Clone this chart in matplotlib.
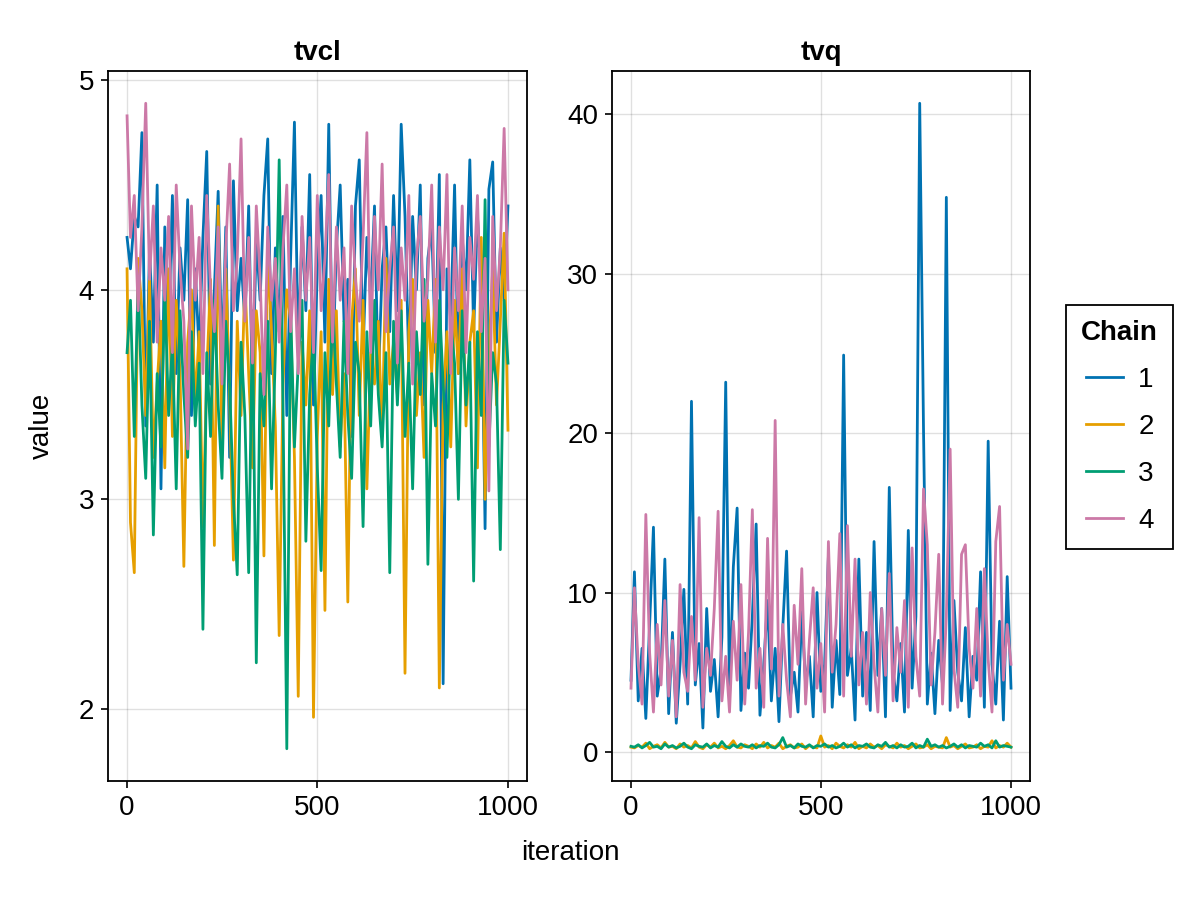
import matplotlib
matplotlib.use("Agg")
import matplotlib.pyplot as plt
from matplotlib.lines import Line2D

# ---------------- data ----------------
iterations = [1] + list(range(10, 1001, 10))
chains = ["1", "2", "3", "4"]
colors = ["#0072B2", "#E69F00", "#009E73", "#CC79A7"]
params = ["tvcl", "tvq"]

tvcl_1 = [4.25,
          4.10, 4.35, 4.30, 4.75, 3.35, 4.20, 3.75, 4.50, 3.05, 4.30,
          3.80, 4.45, 3.60, 4.20, 3.95, 4.43, 3.40, 4.10, 3.70, 4.25,
          4.66, 3.55, 4.00, 4.47, 3.65, 4.30, 3.20, 4.52, 3.90, 4.15,
          3.85, 4.40, 3.50, 4.25, 3.95, 4.45, 4.72, 3.60, 4.20, 3.80,
          4.35, 3.40, 4.15, 4.80, 3.70, 4.30, 3.90, 4.55, 3.45, 4.10,
          4.45, 3.75, 4.79, 3.60, 4.20, 4.50, 3.85, 4.05, 3.30, 4.40,
          4.62, 3.70, 4.25, 3.95, 4.40, 3.55, 4.10, 4.30, 3.80, 4.45,
          3.90, 4.79, 4.35, 3.65, 4.35, 4.00, 4.50, 3.45, 4.15, 4.30,
          3.70, 4.55, 2.12, 4.10, 3.85, 4.50, 3.60, 4.25, 4.00, 4.62,
          3.80, 4.35, 4.05, 2.86, 4.48, 4.61, 3.75, 4.20, 3.95, 4.40]
tvcl_2 = [4.10,
          2.89, 2.65, 4.15, 3.90, 3.40, 4.05, 3.20, 3.55, 3.85, 3.15,
          4.10, 3.30, 3.95, 3.60, 2.68, 3.75, 4.00, 3.45, 3.80, 2.87,
          3.60, 4.05, 2.78, 4.40, 3.25, 4.10, 3.50, 2.71, 3.85, 3.40,
          4.05, 3.60, 3.15, 3.90, 3.70, 2.73, 4.20, 3.80, 3.35, 2.35,
          3.55, 4.00, 3.85, 3.20, 2.06, 3.75, 3.45, 3.90, 1.96, 3.30,
          3.80, 2.47, 4.05, 3.50, 3.90, 3.25, 3.60, 2.51, 3.85, 4.10,
          3.40, 3.95, 3.05, 3.70, 3.55, 3.85, 3.30, 4.15, 3.55, 3.75,
          3.50, 3.95, 2.17, 3.80, 4.05, 3.40, 3.70, 3.20, 3.95, 3.60,
          4.05, 2.10, 3.45, 3.80, 3.25, 3.95, 3.60, 4.10, 3.35, 3.75,
          3.90, 3.15, 4.25, 3.00, 3.70, 4.10, 3.45, 3.85, 4.27, 3.33]
tvcl_3 = [3.70,
          3.95, 3.30, 4.05, 3.45, 3.10, 3.85, 2.83, 3.60, 3.25, 4.00,
          3.40, 3.75, 3.05, 3.90, 3.50, 3.20, 3.80, 3.35, 3.65, 2.38,
          3.70, 3.30, 3.95, 3.45, 3.10, 3.85, 3.55, 3.00, 2.64, 3.75,
          3.40, 2.65, 3.90, 2.22, 3.60, 3.35, 3.85, 3.05, 3.70, 4.62,
          3.45, 1.81, 3.90, 3.25, 3.65, 3.95, 2.80, 3.50, 3.80, 3.15,
          2.66, 3.70, 3.35, 3.95, 3.55, 3.20, 3.85, 3.40, 3.10, 3.75,
          3.60, 2.87, 3.80, 3.35, 3.95, 3.50, 3.25, 3.70, 2.65, 3.85,
          3.45, 3.90, 3.30, 3.65, 3.05, 3.80, 3.50, 4.05, 2.69, 3.60,
          3.35, 3.95, 3.55, 3.20, 3.85, 3.65, 3.00, 3.90, 3.45, 3.75,
          2.61, 3.80, 3.40, 4.43, 3.25, 3.70, 3.55, 2.76, 3.95, 3.65]
tvcl_4 = [4.83,
          4.25, 4.45, 3.90, 4.30, 4.89, 4.05, 4.40, 3.75, 4.20, 3.95,
          4.35, 3.70, 4.50, 4.10, 3.85, 3.24, 4.40, 3.95, 4.25, 3.60,
          4.45, 4.00, 3.80, 4.30, 3.55, 4.20, 4.60, 3.90, 4.15, 4.72,
          3.85, 4.25, 3.65, 4.40, 4.05, 3.50, 4.30, 3.95, 4.15, 3.75,
          4.20, 4.50, 3.80, 4.10, 3.60, 4.35, 3.95, 4.25, 3.70, 4.45,
          3.90, 4.15, 4.55, 3.75, 4.30, 3.95, 4.20, 3.60, 4.40, 4.05,
          3.85, 4.25, 4.75, 3.70, 4.35, 4.00, 4.60, 3.80, 4.10, 4.30,
          3.65, 4.20, 3.95, 4.45, 3.55, 4.15, 4.35, 3.85, 4.05, 4.50,
          3.75, 4.30, 4.00, 4.55, 3.60, 4.20, 3.90, 4.40, 3.70, 4.25,
          4.05, 4.45, 3.80, 4.15, 3.04, 4.35, 3.90, 4.20, 4.77, 4.00]

tvq_1 = [4.5,
         11.3, 3.2, 6.5, 2.1, 8.0, 14.1, 3.5, 5.2, 12.1, 2.4,
         7.5, 1.8, 5.5, 10.2, 3.0, 22.0, 4.2, 6.8, 1.5, 9.0,
         3.8, 5.8, 2.2, 7.2, 23.2, 3.5, 11.6, 15.3, 2.6, 6.2,
         4.0, 8.5, 14.3, 2.3, 5.5, 9.5, 3.2, 6.5, 1.9, 7.8,
         12.6, 3.5, 5.0, 2.5, 8.8, 4.2, 6.0, 2.2, 10.0, 3.8,
         5.5, 12.3, 2.8, 7.0, 3.6, 24.9, 4.8, 6.5, 2.0, 12.1,
         3.5, 7.5, 2.6, 13.2, 4.8, 9.0, 2.2, 16.6, 5.0, 3.2,
         6.8, 2.5, 13.9, 4.0, 8.5, 40.7, 20.2, 3.0, 6.2, 2.4,
         7.0, 4.2, 34.8, 2.6, 9.5, 5.0, 3.2, 7.8, 2.2, 6.0,
         4.5, 11.3, 2.8, 19.5, 5.5, 3.0, 8.2, 2.0, 11.0, 4.0]
tvq_2 = [0.30,
         0.25, 0.40, 0.30, 0.55, 0.20, 0.35, 0.45, 0.25, 0.60, 0.30,
         0.35, 0.20, 0.50, 0.30, 0.40, 0.25, 0.65, 0.30, 0.20, 0.45,
         0.30, 0.55, 0.25, 0.35, 0.20, 0.40, 0.70, 0.30, 0.25, 0.45,
         0.35, 0.20, 0.50, 0.30, 0.60, 0.25, 0.40, 0.30, 0.55, 0.20,
         0.35, 0.45, 0.25, 0.30, 0.50, 0.20, 0.40, 0.30, 0.25, 1.00,
         0.30, 0.40, 0.20, 0.55, 0.35, 0.25, 0.45, 0.30, 0.60, 0.20,
         0.35, 0.25, 0.50, 0.30, 0.40, 0.20, 0.45, 0.35, 0.25, 0.55,
         0.30, 0.40, 0.20, 0.35, 0.50, 0.25, 0.30, 0.45, 0.20, 0.35,
         0.30, 0.25, 0.90, 0.30, 0.40, 0.20, 0.35, 0.50, 0.25, 0.30,
         0.45, 0.20, 0.35, 0.30, 0.70, 0.25, 0.40, 0.30, 0.55, 0.30]
tvq_3 = [0.35,
         0.30, 0.45, 0.25, 0.40, 0.60, 0.30, 0.35, 0.20, 0.50, 0.30,
         0.40, 0.25, 0.35, 0.55, 0.30, 0.20, 0.45, 0.35, 0.30, 0.50,
         0.25, 0.40, 0.30, 0.65, 0.35, 0.25, 0.45, 0.30, 0.50, 0.35,
         0.30, 0.45, 0.25, 0.40, 0.35, 0.55, 0.30, 0.25, 0.45, 0.90,
         0.30, 0.40, 0.25, 0.50, 0.35, 0.30, 0.45, 0.25, 0.40, 0.35,
         0.50, 0.30, 0.40, 0.25, 0.35, 0.55, 0.30, 0.45, 0.25, 0.40,
         0.35, 0.50, 0.30, 0.25, 0.45, 0.35, 0.60, 0.30, 0.40, 0.25,
         0.45, 0.30, 0.35, 0.55, 0.25, 0.40, 0.30, 0.80, 0.35, 0.45,
         0.30, 0.40, 0.25, 0.35, 0.50, 0.30, 0.45, 0.25, 0.40, 0.35,
         0.30, 0.55, 0.35, 0.45, 0.25, 0.70, 0.30, 0.40, 0.35, 0.30]
tvq_4 = [4.0,
         10.3, 5.5, 3.0, 14.9, 6.2, 2.5, 8.0, 4.2, 9.5, 3.5,
         7.0, 2.2, 10.5, 5.0, 3.8, 8.5, 4.5, 14.7, 2.8, 6.5,
         4.8, 9.0, 15.1, 3.2, 6.0, 2.5, 8.2, 4.5, 10.5, 3.0,
         7.5, 15.2, 4.0, 6.5, 2.8, 13.4, 5.2, 20.8, 3.5, 8.0,
         4.5, 2.2, 9.2, 5.5, 11.5, 3.0, 7.0, 10.3, 4.0, 6.8,
         2.5, 13.2, 5.0, 8.0, 13.7, 3.5, 14.2, 6.0, 12.1, 4.2,
         7.5, 3.0, 10.0, 5.5, 2.5, 9.0, 4.8, 11.2, 3.2, 7.8,
         5.0, 9.5, 2.8, 12.8, 6.0, 3.5, 16.5, 13.0, 4.2, 7.5,
         12.4, 3.0, 8.5, 19.0, 5.2, 2.8, 12.4, 13.0, 6.5, 4.0,
         9.0, 3.5, 11.5, 5.8, 2.5, 13.2, 15.4, 4.5, 8.0, 5.5]

tvcl_chains = [tvcl_1, tvcl_2, tvcl_3, tvcl_4]
tvq_chains = [tvq_1, tvq_2, tvq_3, tvq_4]

tvcl_ticks = [2, 3, 4, 5]
tvq_ticks = [0, 10, 20, 30, 40]
x_ticks = [0, 500, 1000]

# ---------------- style ----------------
plt.rcParams['font.family'] = ['Liberation Sans', 'DejaVu Sans']
FS = 20

fig = plt.figure(figsize=(12, 9), dpi=100)
W, H = 1200, 900
def ax_rect(x0, y0, x1, y1):
    return [x0 / W, 1 - y1 / H, (x1 - x0) / W, (y1 - y0) / H]

ax1 = fig.add_axes(ax_rect(108, 71, 527, 781))
ax2 = fig.add_axes(ax_rect(612, 71, 1030, 781))

for ax, data, yt, title in [(ax1, tvcl_chains, tvcl_ticks, params[0]),
                            (ax2, tvq_chains, tvq_ticks, params[1])]:
    for vals, c in zip(data, colors):
        ax.plot(iterations, vals, color=c, linewidth=2.0)
    ax.margins(x=0.05, y=0.05)
    ax.set_xticks(x_ticks)
    ax.set_yticks(yt)
    ax.grid(True, color='black', alpha=0.12, linewidth=1.0)
    ax.set_axisbelow(True)
    for s in ax.spines.values():
        s.set_linewidth(1.3)
        s.set_color('black')
    ax.tick_params(direction='out', length=5, width=1.2, labelsize=FS, pad=5)
    ax.set_title(title, fontsize=FS, fontweight='bold', pad=8)

ax1.set_ylabel("value", fontsize=FS)
ax1.yaxis.set_label_coords((55 - 108) / 419, 0.5)
fig.text(570 / W, 1 - 853 / H, "iteration", ha='center', va='center', fontsize=FS)

handles = [Line2D([0], [0], color=c, linewidth=2) for c in colors]
leg = fig.legend(handles, chains, title="Chain", loc='center left',
                 bbox_to_anchor=(1066 / W, 1 - 427 / H), fontsize=FS,
                 title_fontproperties={'weight': 'bold', 'size': FS},
                 frameon=True, fancybox=False, edgecolor='black',
                 framealpha=1, borderaxespad=0,
                 handlelength=1.35, labelspacing=0.75, borderpad=0.55,
                 handletextpad=0.55)
leg.get_frame().set_linewidth(1.3)

fig.savefig("out.png", dpi=100)
